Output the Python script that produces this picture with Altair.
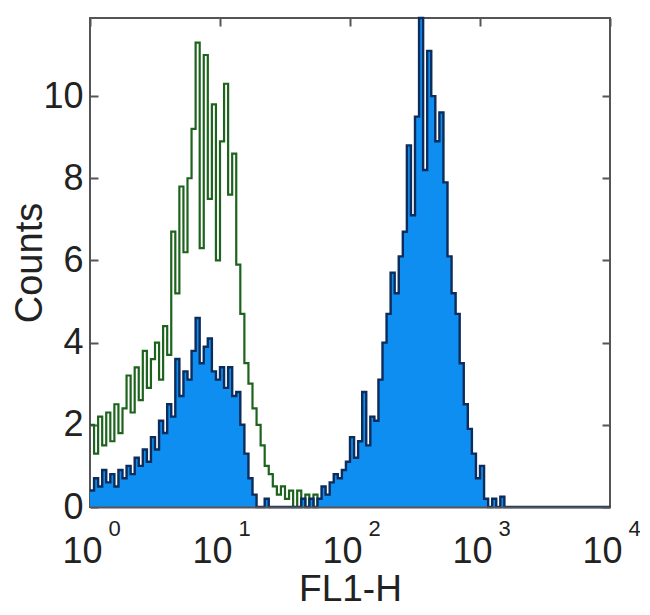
import altair as alt
import pandas as pd

# ---- data (counts per channel, 32 channels per decade) ----
BINS_PER_DECADE = 32

green_counts = [
    2.0, 1.3, 2.2, 1.5, 2.3, 1.6, 2.5, 1.8, 2.4, 3.2, 2.3, 3.4, 2.6, 3.8, 2.9, 3.6,
    4.0, 3.1, 4.4, 3.7, 6.7, 5.2, 7.8, 6.2, 8.0, 9.2, 11.3, 6.3, 11.0, 7.5, 9.8, 6.0,
    8.9, 10.3, 7.6, 8.6, 5.9, 4.7, 3.5, 3.0, 2.4, 2.0, 1.5, 1.0, 0.8, 0.5, 0.3, 0.5,
    0.2, 0.4, 0.0, 0.4, 0.0, 0.3, 0.0, 0.3, 0.0, 0.2, 0.0, 0.0, 0.0, 0.0, 0.0, 0.0,
    0.0, 0.0, 0.0, 0.0, 0.0, 0.0, 0.0, 0.0, 0.0, 0.0, 0.0, 0.0, 0.0, 0.0, 0.0, 0.0,
    0.0, 0.0, 0.0, 0.0, 0.0, 0.0, 0.0, 0.0, 0.0, 0.0, 0.0, 0.0, 0.0, 0.0, 0.0, 0.0,
    0.0, 0.0, 0.0, 0.0, 0.0, 0.0, 0.0, 0.0, 0.0, 0.0, 0.0, 0.0, 0.0, 0.0, 0.0, 0.0,
    0.0, 0.0, 0.0, 0.0, 0.0, 0.0, 0.0, 0.0, 0.0, 0.0, 0.0, 0.0, 0.0, 0.0, 0.0, 0.0,
]

blue_counts = [
    0.4, 0.7, 0.5, 0.9, 0.6, 0.8, 0.5, 0.9, 0.7, 1.0, 0.8, 1.2, 1.0, 1.4, 1.1, 1.7,
    1.4, 2.1, 1.8, 2.5, 2.2, 3.6, 2.7, 3.3, 3.1, 3.8, 4.6, 3.5, 3.9, 4.1, 3.3, 3.1,
    3.4, 2.9, 3.4, 2.7, 2.8, 2.0, 1.3, 0.7, 0.3, 0.0, 0.0, 0.2, 0.0, 0.0, 0.0, 0.0,
    0.0, 0.0, 0.0, 0.0, 0.2, 0.0, 0.2, 0.0, 0.2, 0.5, 0.3, 0.6, 0.8, 0.7, 0.9, 1.1,
    1.7, 1.2, 1.6, 2.8, 1.5, 2.2, 2.1, 3.1, 4.0, 4.7, 5.7, 5.2, 6.1, 6.7, 8.8, 7.1,
    9.5, 11.9, 8.2, 11.1, 10.0, 8.9, 9.6, 7.9, 6.1, 5.2, 4.7, 3.5, 2.5, 1.9, 1.3, 0.7,
    1.0, 0.2, 0.0, 0.2, 0.0, 0.25, 0.0, 0.0, 0.0, 0.0, 0.0, 0.0, 0.0, 0.0, 0.0, 0.0,
    0.0, 0.0, 0.0, 0.0, 0.0, 0.0, 0.0, 0.0, 0.0, 0.0, 0.0, 0.0, 0.0, 0.0, 0.0, 0.0,
]

x_ticks = [1, 10, 100, 1000, 10000]
y_ticks = [0, 2, 4, 6, 8, 10]
y_max = 11.9

n = len(green_counts)
edges = [10 ** (i / BINS_PER_DECADE) for i in range(n + 1)]
df = pd.DataFrame({
    "x": edges,
    "green": green_counts + [0.0],
    "blue": blue_counts + [0.0],
})

# ---- style ----
W, H = 520, 489
FONT = "Liberation Sans"
TXT = "#222222"
BORDER = "#555555"
GREEN = "#1d631d"
FILL = "#0f8ef2"
NAVY = "#0c2d5c"

xscale = alt.Scale(type="log", domain=[1, 10000], nice=False)
yscale = alt.Scale(domain=[0, y_max], nice=False, zero=True)

ax_x_main = alt.Axis(
    orient="bottom", values=x_ticks, labelExpr="'10'",
    labelFont=FONT, labelFontSize=36, labelColor=TXT, labelPadding=27, labelOffset=-8,
    labelFlush=False, labelOverlap=False, ticks=False, tickSize=0,
    domain=True, domainColor=BORDER, domainWidth=2, zindex=1, grid=False,
    title="FL1-H", titleFont=FONT, titleFontSize=37, titleFontWeight="normal",
    titleColor=TXT, titleX=W / 2, titleY=93, titleBaseline="alphabetic",
)
ax_x_exp = alt.Axis(
    orient="bottom", values=x_ticks,
    labelExpr="'' + round(log(datum.value) / LN10)",
    labelFont=FONT, labelFontSize=22, labelColor=TXT, labelPadding=11, labelOffset=24,
    labelFlush=False, labelOverlap=False, ticks=False, tickSize=0,
    domain=False, grid=False, title=None,
)
ax_x_top = alt.Axis(
    orient="top", values=x_ticks, labels=False, ticks=True, tickSize=8,
    tickWidth=2, tickColor=BORDER, offset=-8, domain=False, grid=False, title=None,
)
ax_y_main = alt.Axis(
    orient="left", values=y_ticks, format="d",
    labelFont=FONT, labelFontSize=36, labelColor=TXT, labelPadding=7,
    ticks=False, tickSize=0, domain=False, grid=False,
    title="Counts", titleFont=FONT, titleFontSize=38, titleFontWeight="normal",
    titleColor=TXT, titleX=-49, titleY=H / 2, titleBaseline="alphabetic",
)
ax_y_lticks = alt.Axis(
    orient="left", values=y_ticks, labels=False, ticks=True, tickSize=8,
    tickWidth=2, tickColor=BORDER, offset=-8, domain=False, grid=False, title=None,
)
ax_y_rticks = alt.Axis(
    orient="right", values=y_ticks, labels=False, ticks=True, tickSize=8,
    tickWidth=2, tickColor=BORDER, offset=-8, domain=False, grid=False, title=None,
)

green = alt.Chart(df).mark_line(
    interpolate="step-after", color=GREEN, strokeWidth=2.2
).encode(
    x=alt.X("x:Q", scale=xscale, axis=ax_x_main),
    y=alt.Y("green:Q", scale=yscale, axis=ax_y_main),
)

blue_area = alt.Chart(df).mark_area(
    interpolate="step-after", color=FILL
).encode(
    x=alt.X("x:Q", scale=xscale, axis=ax_x_exp),
    y=alt.Y("blue:Q", scale=yscale, axis=ax_y_lticks),
)

navy = alt.Chart(df).mark_line(
    interpolate="step-after", color=NAVY, strokeWidth=2.4
).encode(
    x=alt.X("x:Q", scale=xscale, axis=ax_x_top),
    y=alt.Y("blue:Q", scale=yscale, axis=ax_y_rticks),
)

chart = (
    alt.layer(green, blue_area, navy)
    .resolve_axis(x="independent", y="independent")
    .properties(
        width=W, height=H,
        autosize=alt.AutoSizeParams(type="none"),
        padding={"left": 82, "top": 10, "right": 30, "bottom": 100},
        background="white",
    )
    .configure_view(stroke=BORDER, strokeWidth=2)
)

chart.save("out.html", embed_options={"renderer": "svg", "actions": False})
